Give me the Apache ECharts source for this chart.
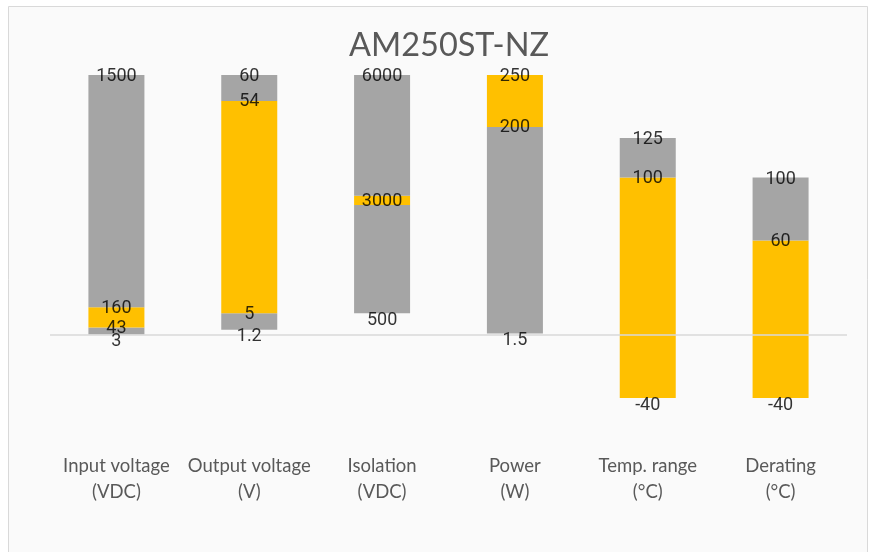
<!DOCTYPE html>
<html>
<head>
<meta charset="utf-8">
<script src="https://cdn.jsdelivr.net/npm/echarts@6/dist/echarts.min.js"></script>
<style>
html,body{margin:0;padding:0;background:#ffffff;}
#chart{width:875px;height:552px;}
</style>
</head>
<body>
<div id="chart"></div>
<script>
// Categories (x axis)
const categories = ['Input voltage\n(VDC)', 'Output voltage\n(V)', 'Isolation\n(VDC)', 'Power\n(W)', 'Temp. range\n(°C)', 'Derating\n(°C)'];

// Segment boundaries in chart units
const barBottom    = [0.33, 3.3, 13.75, 1.0, -40, -40];
const yellowBottom = [4.7, 13.75, 82.5, 132, -40, -40];
const yellowTop    = [17.6, 148.5, 88.4, 165, 100, 60];
const barTop       = [165, 165, 165, 165, 125, 100];

// Value labels (texts) and the boundary each one sits on
const labelTexts = [
  ['1500', '160', '43', '3'],
  ['60', '54', '5', '1.2'],
  ['6000', '3000', '500'],
  ['250', '200', '1.5'],
  ['125', '100', '-40'],
  ['100', '60', '-40']
];
const labelAnchors = [
  [165, 17.6, 4.7, 0.33],
  [165, 148.5, 13.75, 3.3],
  [165, 85.5, 13.75],
  [165, 132, 1.0],
  [125, 100, -40],
  [100, 60, -40]
];

const GRAY = '#A5A5A5';
const YELLOW = '#FFC000';

const baseVals = barBottom.slice();
const grayLow = barBottom.map((b, i) => +(yellowBottom[i] - b).toFixed(3));
const yellowVals = yellowBottom.map((b, i) => +(yellowTop[i] - b).toFixed(3));
const grayHigh = yellowTop.map((b, i) => +(barTop[i] - b).toFixed(3));

const labelData = [];
labelTexts.forEach((arr, ci) => {
  arr.forEach((t, k) => {
    let dy = 1;
    if (k === 0) dy = 2;
    else if (k === arr.length - 1) dy = 7;
    labelData.push({
      value: [ci, labelAnchors[ci][k]],
      label: { formatter: t, offset: [0, dy] }
    });
  });
});

const chart = echarts.init(document.getElementById('chart'), null, { renderer: 'canvas' });
chart.setOption({
  backgroundColor: 'transparent',
  animation: false,
  graphic: [{
    type: 'rect',
    z: -1,
    silent: true,
    shape: { x: 8.5, y: 6.5, width: 859, height: 560 },
    style: { fill: '#FAFAFA', stroke: '#D9D9D9', lineWidth: 1 }
  }],
  title: {
    text: 'AM250ST-NZ',
    left: 349,
    top: 29,
    padding: 0,
    textStyle: { fontFamily: 'Lato', fontWeight: 'normal', fontSize: 32.5, color: '#595959' }
  },
  grid: { left: 50, width: 797, top: 51.3, height: 378.3, containLabel: false },
  xAxis: {
    type: 'category',
    data: categories,
    axisLine: { show: false },
    axisTick: { show: false },
    splitLine: { show: false },
    axisLabel: {
      interval: 0,
      margin: 23,
      color: '#595959',
      fontFamily: 'Lato',
      fontSize: 18.5,
      lineHeight: 26
    }
  },
  yAxis: { type: 'value', min: -60, max: 180, show: false },
  series: [
    {
      name: 'base', type: 'bar', stack: 'total', stackStrategy: 'all', barWidth: 56,
      itemStyle: { color: 'transparent' }, data: baseVals, silent: true,
      markLine: {
        silent: true, symbol: 'none',
        label: { show: false },
        lineStyle: { color: '#D9D9D9', width: 1.5, type: 'solid' },
        data: [{ yAxis: 0 }]
      }
    },
    { name: 'grayLow', type: 'bar', stack: 'total', stackStrategy: 'all', barWidth: 56, itemStyle: { color: GRAY }, data: grayLow },
    { name: 'yellow', type: 'bar', stack: 'total', stackStrategy: 'all', barWidth: 56, itemStyle: { color: YELLOW }, data: yellowVals },
    { name: 'grayHigh', type: 'bar', stack: 'total', stackStrategy: 'all', barWidth: 56, itemStyle: { color: GRAY }, data: grayHigh },
    {
      name: 'labels', type: 'scatter', symbolSize: 0, silent: true, z: 10,
      label: { show: true, position: 'inside', color: '#000000', fontFamily: 'Roboto', fontSize: 18 },
      data: labelData
    }
  ]
});
</script>
</body>
</html>
